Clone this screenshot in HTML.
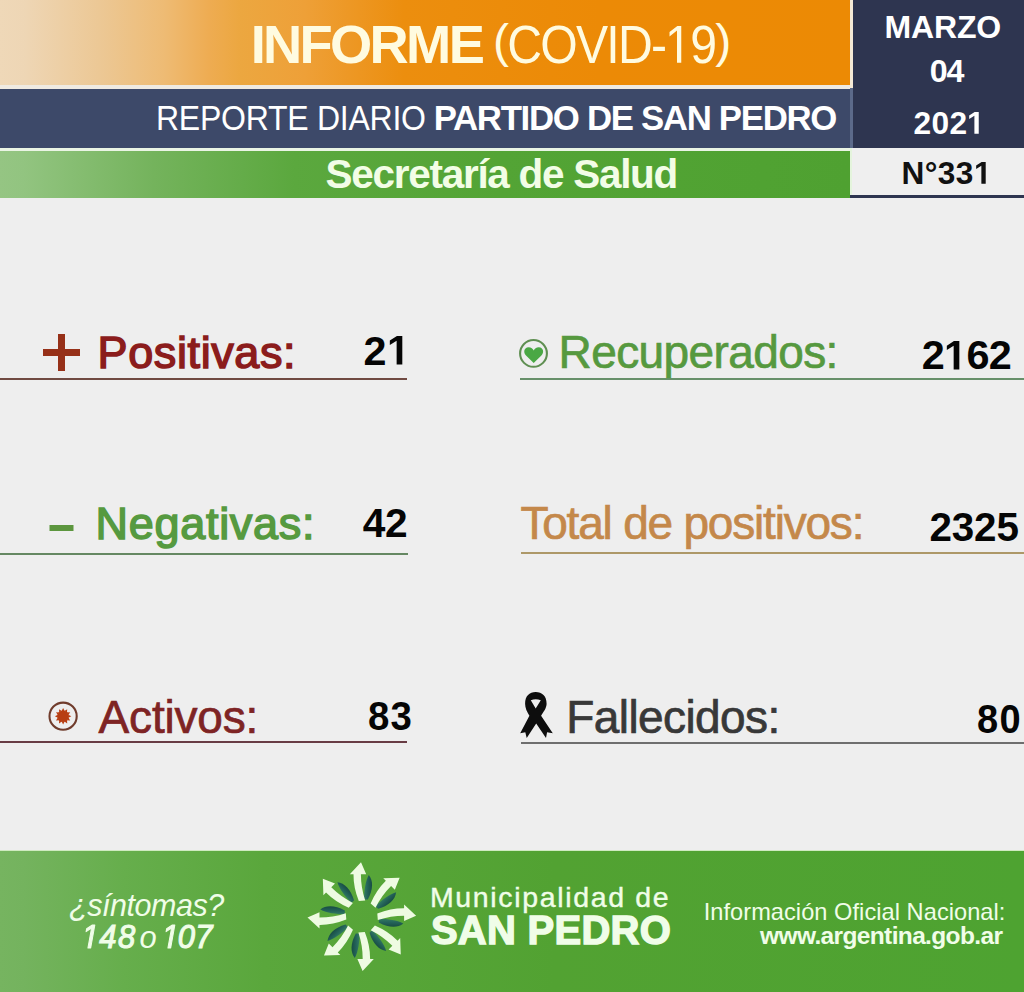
<!DOCTYPE html>
<html><head><meta charset="utf-8">
<style>
*{margin:0;padding:0;box-sizing:border-box}
html,body{width:1024px;height:992px;overflow:hidden;background:#eeeeee;font-family:"Liberation Sans",sans-serif}
.a{position:absolute;white-space:nowrap}
.t{line-height:1}
#orange{left:0;top:0;width:850px;height:85px;background:linear-gradient(90deg,#efd8b8 0px,#eed6b5 24px,#ecc793 104px,#eebb74 164px,#eeac52 209px,#eca740 240px,#eea038 304px,#ec8e0e 404px,#ec8a06 600px,#ec8a04 850px)}
#wl1{left:0;top:85px;width:850px;height:3.5px;background:#efeae2}
#navy{left:0;top:88.5px;width:850px;height:59px;background:#3d4969}
#wl2{left:0;top:147.5px;width:850px;height:3.5px;background:#eaf4e4}
#green{left:0;top:151px;width:850px;height:46.6px;background:linear-gradient(90deg,#95c583 0px,#92c480 24px,#74b35c 154px,#5ba83e 294px,#53a435 500px,#50a232 764px,#4fa131 850px)}
#vline{left:850px;top:0;width:3px;height:147.5px;background:linear-gradient(180deg,#f5ead6 0,#f5ead6 88px,#5c6a8a 88px,#5c6a8a 147px)}
#dark{left:853px;top:0;width:171px;height:147.5px;background:#2e3550}
#nbox{left:850px;top:147.5px;width:174px;height:48px;background:#efefef;border-left:2px solid #e4f4dc}
#nline{left:850px;top:195.2px;width:174px;height:2.6px;background:#2e3550}
#footer{left:0;top:850px;width:1024px;height:142px;background:linear-gradient(90deg,#76b460 0px,#74b35e 24px,#66ae4c 124px,#5aa73c 264px,#52a232 554px,#4ea331 1024px);border-top:1px solid #cfeac0}
.ul{height:2px}
</style></head><body>
<div class="a" id="orange"></div>
<div class="a" id="wl1"></div>
<div class="a" id="navy"></div>
<div class="a" id="wl2"></div>
<div class="a" id="green"></div>
<div class="a" id="vline"></div>
<div class="a" id="dark"></div>
<div class="a" id="nbox"></div>
<div class="a" id="nline"></div>

<div class="a ul" style="left:0;top:377.6px;width:407px;background:#704a42"></div>
<div class="a ul" style="left:520px;top:377.6px;width:504px;background:#67906a"></div>
<div class="a ul" style="left:0;top:552.9px;width:408px;background:#658862"></div>
<div class="a ul" style="left:521px;top:552.2px;width:503px;background:#ad9868"></div>
<div class="a ul" style="left:0;top:740.9px;width:407px;background:#683c44"></div>
<div class="a ul" style="left:521px;top:741.7px;width:503px;background:#6e6e6e"></div>

<!-- icons -->
<svg class="a" style="left:0;top:0" width="1024" height="850" viewBox="0 0 1024 850">
  <!-- plus -->
  <rect x="43" y="349" width="37" height="7" fill="#963018"/>
  <rect x="58" y="334" width="7" height="37" fill="#963018"/>
  <!-- minus -->
  <rect x="49.5" y="525" width="24" height="6" fill="#5c963e"/>
  <!-- heart circle -->
  <circle cx="533.5" cy="353.4" r="13.4" fill="none" stroke="#5f8f52" stroke-width="2.1"/>
  <path d="M533.7 363 L526 355.5 C523 352.5 524 347.5 528.5 347.3 C531 347.2 532.8 348.8 533.7 350.5 C534.6 348.8 536.4 347.2 538.9 347.3 C543.4 347.5 544.4 352.5 541.4 355.5 Z" fill="#4aa844"/>
  <!-- active circle -->
  <circle cx="63.1" cy="716.2" r="13.6" fill="none" stroke="#703c2c" stroke-width="2.1"/>
  <g transform="translate(63.1 716.3)" fill="#b83e12">
    <circle r="5.8"/>
    <g id="spk"><path d="M-1.5 -5.2 L0 -8.2 L1.5 -5.2 Z"/></g>
    <use href="#spk" transform="rotate(30)"/><use href="#spk" transform="rotate(60)"/><use href="#spk" transform="rotate(90)"/>
    <use href="#spk" transform="rotate(120)"/><use href="#spk" transform="rotate(150)"/><use href="#spk" transform="rotate(180)"/>
    <use href="#spk" transform="rotate(210)"/><use href="#spk" transform="rotate(240)"/><use href="#spk" transform="rotate(270)"/>
    <use href="#spk" transform="rotate(300)"/><use href="#spk" transform="rotate(330)"/>
  </g>
  <!-- ribbon -->
  <path fill="#0d0d0d" fill-rule="evenodd" d="M535.7 692.1 C542 692.1 546.6 696 546.6 703.8 C546.6 708 543.5 712 541.1 715.7 L552.8 733.2 L547.1 732.3 L546 738.1 L536.2 723.4 L526.7 738.1 L525.3 732.3 L520.2 733.2 L529.4 715.7 C527 712 525.1 708 525.1 703.8 C525.1 696 529.4 692.1 535.7 692.1 Z M530.8 700.2 Q535.7 698.3 540.8 700.2 L535.7 708.4 Z"/>
</svg>

<div class="a" id="footer"></div>
<svg class="a" style="left:0;top:850px" width="1024" height="142" viewBox="0 850 1024 142">
  <defs>
    <linearGradient id="tg" gradientUnits="userSpaceOnUse" x1="2" y1="0" x2="11" y2="0">
      <stop offset="0" stop-color="#347e60"/><stop offset="0.4" stop-color="#24645a"/><stop offset="1" stop-color="#164840"/>
    </linearGradient>
    <g id="arr">
      <path d="M7 -41.5 C11.5 -36 11.5 -27 6 -17 L2 -17 C2.5 -26 3.5 -35 7 -41.5 Z" fill="url(#tg)"/>
      <path d="M-3 -15.5 Q-8.4 -29 -8.3 -42.3 L-12 -42.3 L-0.8 -54.3 L4.4 -42.3 L-0.9 -42.3 Q-0.9 -29 3.4 -16 Z" fill="#eefbe2"/>
    </g>
  </defs>
  <g transform="translate(361.8 916.6)">
    <use href="#arr"/>
    <use href="#arr" transform="rotate(45)"/>
    <use href="#arr" transform="rotate(90)"/>
    <use href="#arr" transform="rotate(135)"/>
    <use href="#arr" transform="rotate(180)"/>
    <use href="#arr" transform="rotate(225)"/>
    <use href="#arr" transform="rotate(270)"/>
    <use href="#arr" transform="rotate(315)"/>
  </g>
</svg>

<div class="a t" style="left:250.7px;top:18.0px;font-size:54.3px;font-weight:bold;letter-spacing:-2.7px;color:#fffbe0;">INFORME</div>
<div class="a t" style="left:493.4px;top:18.1px;font-size:53.5px;letter-spacing:-1.96px;--ls:-1.96px;color:#fffbe0;;transform-origin:0 0;transform:scaleX(0.9)"><span style="display:inline-block;transform:scaleY(0.86);transform-origin:50% 0">(</span>COVID-<svg class="o1" viewBox="0 0 1139 1409" style="width:0.5562em;height:0.688em;overflow:visible;margin-right:var(--ls,0px)"><path d="M515 1409L515 172L197 399L197 229L530 0L696 0L696 1409Z" fill="currentColor"/></svg>9<span style="display:inline-block;transform:scaleY(0.86);transform-origin:50% 0">)</span></div>
<div class="a t" style="left:155.8px;top:101.2px;font-size:34.8px;letter-spacing:-0.28px;color:#ffffff;;transform-origin:0 0;transform:scaleX(0.92)">REPORTE DIARIO</div>
<div class="a t" style="left:433.7px;top:101.2px;font-size:34.8px;font-weight:bold;letter-spacing:-1.31px;color:#ffffff;">PARTIDO DE SAN PEDRO</div>
<div class="a t" style="left:325.6px;top:153.8px;font-size:40.5px;font-weight:bold;letter-spacing:-1.29px;color:#f2fde6;">Secretaría de Salud</div>
<div class="a t" style="left:884.4px;top:11.3px;font-size:32.0px;font-weight:bold;letter-spacing:-0.12px;color:#ffffff;">MARZO</div>
<div class="a t" style="left:929.7px;top:54.8px;font-size:32.2px;font-weight:bold;letter-spacing:-1.2px;color:#ffffff;">04</div>
<div class="a t" style="left:913.6px;top:107.7px;font-size:31.7px;font-weight:bold;letter-spacing:0.33px;--ls:0.33px;color:#ffffff;">202<svg class="o1" viewBox="0 0 1139 1409" style="width:0.5562em;height:0.688em;overflow:visible;margin-right:var(--ls,0px)"><path d="M478 1409L478 239L140 450L140 229L493 0L759 0L759 1409Z" fill="currentColor"/></svg></div>
<div class="a t" style="left:901.6px;top:157.9px;font-size:31.6px;font-weight:bold;letter-spacing:0.4px;--ls:0.4px;color:#111111;">N°33<svg class="o1" viewBox="0 0 1139 1409" style="width:0.5562em;height:0.688em;overflow:visible;margin-right:var(--ls,0px)"><path d="M478 1409L478 239L140 450L140 229L493 0L759 0L759 1409Z" fill="currentColor"/></svg></div>
<div class="a t" style="left:97.6px;top:329.8px;font-size:45.0px;letter-spacing:0.6px;color:#8b1c1c;-webkit-text-stroke:1.5px #8b1c1c">Positivas:</div>
<div class="a t" style="left:363.4px;top:330.9px;font-size:41.3px;font-weight:bold;letter-spacing:0.3px;--ls:0.3px;color:#050505;">2<svg class="o1" viewBox="0 0 1139 1409" style="width:0.5562em;height:0.688em;overflow:visible;margin-right:var(--ls,0px)"><path d="M478 1409L478 239L140 450L140 229L493 0L759 0L759 1409Z" fill="currentColor"/></svg></div>
<div class="a t" style="left:558.6px;top:328.8px;font-size:46.0px;letter-spacing:-0.6px;color:#56993f;-webkit-text-stroke:0.7px #56993f">Recuperados:</div>
<div class="a t" style="left:921.8px;top:335.0px;font-size:41.4px;font-weight:bold;letter-spacing:-0.73px;--ls:-0.73px;color:#050505;">2<svg class="o1" viewBox="0 0 1139 1409" style="width:0.5562em;height:0.688em;overflow:visible;margin-right:var(--ls,0px)"><path d="M478 1409L478 239L140 450L140 229L493 0L759 0L759 1409Z" fill="currentColor"/></svg>62</div>
<div class="a t" style="left:95.6px;top:501.1px;font-size:45.0px;letter-spacing:0.7px;color:#569a40;-webkit-text-stroke:1.5px #569a40">Negativas:</div>
<div class="a t" style="left:362.8px;top:502.8px;font-size:40.7px;font-weight:bold;letter-spacing:-0.5px;color:#050505;">42</div>
<div class="a t" style="left:520.4px;top:499.9px;font-size:46.0px;letter-spacing:-1.2px;color:#c4884a;-webkit-text-stroke:0.7px #c4884a">Total de positivos:</div>
<div class="a t" style="left:929.6px;top:506.6px;font-size:40.4px;font-weight:bold;letter-spacing:-0.2px;color:#050505;">2325</div>
<div class="a t" style="left:98.6px;top:693.6px;font-size:46.0px;letter-spacing:-0.19px;color:#7e2424;-webkit-text-stroke:0.7px #7e2424">Activos:</div>
<div class="a t" style="left:368.1px;top:695.9px;font-size:41.3px;font-weight:bold;letter-spacing:1.29px;color:#050505;;transform-origin:0 0;transform:scaleX(0.93)">83</div>
<div class="a t" style="left:566.3px;top:693.6px;font-size:46.0px;letter-spacing:-0.59px;color:#383838;-webkit-text-stroke:0.7px #383838">Fallecidos:</div>
<div class="a t" style="left:977.4px;top:698.7px;font-size:40.9px;font-weight:bold;letter-spacing:1.51px;color:#050505;;transform-origin:0 0;transform:scaleX(0.93)">80</div>
<div class="a t" style="left:69.1px;top:889.6px;font-size:30.5px;font-style:italic;letter-spacing:-0.48px;color:#f0fde8;">¿síntomas?</div>
<div class="a t" style="left:429.9px;top:882.5px;font-size:28.5px;letter-spacing:1.66px;color:#f0fde8;-webkit-text-stroke:0.4px #f0fde8">Municipalidad de</div>
<div class="a t" style="left:430.9px;top:910.2px;font-size:40px;font-weight:bold;letter-spacing:0.26px;color:#f0fde8;-webkit-text-stroke:1.4px #f0fde8">SAN PEDRO</div>
<div class="a t" style="left:703.7px;top:900.8px;font-size:23.6px;letter-spacing:0.05px;color:#f0fde8;">Información Oficial Nacional:</div>
<div class="a t" style="left:760.1px;top:923.6px;font-size:24.5px;font-weight:bold;letter-spacing:-0.64px;color:#f0fde8;">www.argentina.gob.ar</div>
<div class="a t" style="left:83.5px;top:920.1px;font-size:33.3px;font-style:italic;letter-spacing:1.72px;--ls:1.72px;color:#f0fde8;-webkit-text-stroke:1.1px #f0fde8;transform-origin:0 0;transform:scaleX(0.93)"><svg class="o1" viewBox="150 0 900 1409" style="width:0.4395em;height:0.688em;overflow:visible;margin-right:var(--ls,0px)"><path d="M412 1409L650 186L289 409L324 229L701 0L867 0L593 1409Z" fill="currentColor" stroke="currentColor" stroke-width="68" stroke-linejoin="round"/></svg>48</div>
<div class="a t" style="left:139.5px;top:922.1px;font-size:31px;font-style:italic;color:#f0fde8;">o</div>
<div class="a t" style="left:163.6px;top:920.1px;font-size:33.3px;font-style:italic;letter-spacing:0.22px;--ls:0.22px;color:#f0fde8;-webkit-text-stroke:1.1px #f0fde8;transform-origin:0 0;transform:scaleX(0.93)"><svg class="o1" viewBox="150 0 900 1409" style="width:0.4395em;height:0.688em;overflow:visible;margin-right:var(--ls,0px)"><path d="M412 1409L650 186L289 409L324 229L701 0L867 0L593 1409Z" fill="currentColor" stroke="currentColor" stroke-width="68" stroke-linejoin="round"/></svg>07</div>
</body></html>
